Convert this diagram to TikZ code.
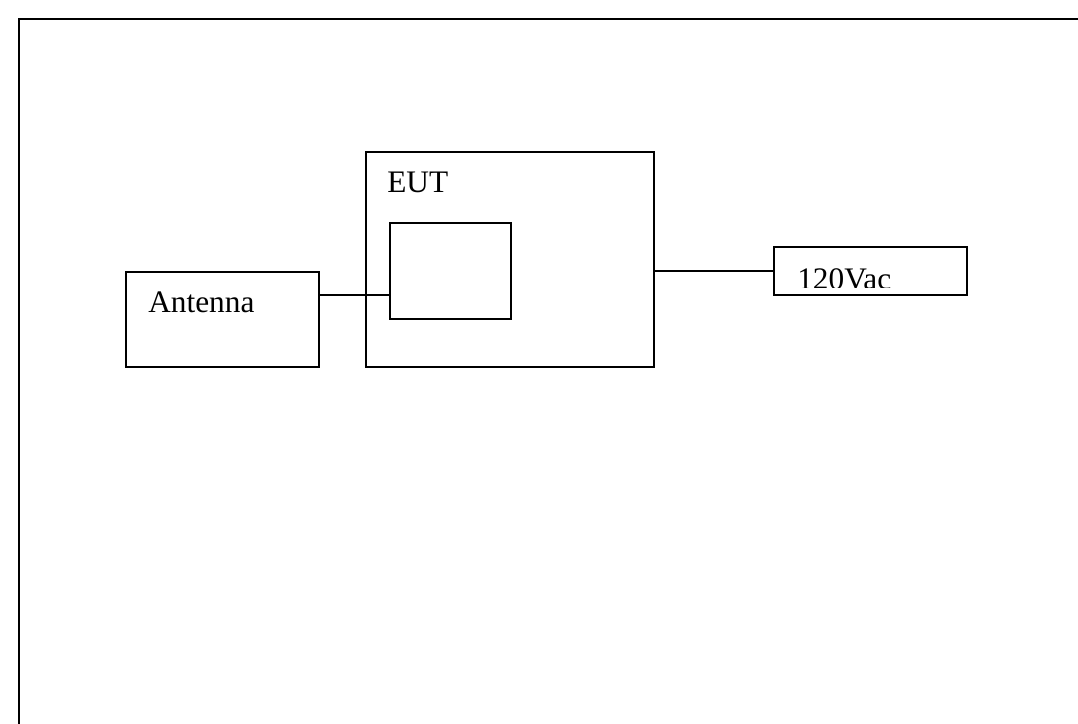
\documentclass[tikz,border=0pt]{standalone}
\usepackage{fontspec}
\setmainfont{Liberation Serif}
\usepackage{tikz}
\usetikzlibrary{positioning}
\tikzset{
  unitbox/.style={draw,line width=1pt,inner sep=0pt},
  unitlabel/.style={anchor=base west,inner sep=0pt,font=\fontsize{23.5}{28}\selectfont},
  wire/.style={line width=1pt},
  frame/.style={line width=1.5pt}
}
\begin{document}
\begin{tikzpicture}[x=0.75pt,y=-0.75pt]
  \useasboundingbox (0,0) rectangle (1078,724);
  \clip (0,0) rectangle (1078,724);
  \draw[frame] (19,19) rectangle (1120,780);
  \node[unitbox,minimum width=144.75pt,minimum height=71.25pt] (ant) at (222.5,319.5) {};
  \node[unitbox,minimum width=216pt,minimum height=161.25pt] (eut) at (510,259.5) {};
  \node[unitbox,minimum width=90.75pt,minimum height=72pt] (rx) at (450.5,271) {};
  \node[unitbox,minimum width=144.75pt,minimum height=36pt] (ac) at (870.5,271) {};
  \node[unitlabel] (antlabel) at (148,312) {Antenna};
  \node[unitlabel] (eutlabel) at (387,192) {EUT};
  \begin{scope}
    \clip (ac.north west) rectangle ([yshift=6.4pt]ac.south east);
    \node[unitlabel] (aclabel) at (797,289.5) {120Vac};
  \end{scope}
  \draw[wire] ([yshift=18.4pt]ant.east) -- ([yshift=18.4pt]ant.east -| rx.west);
  \draw[wire] (eut.east |- ac.west) -- (ac.west);
\end{tikzpicture}
\end{document}
